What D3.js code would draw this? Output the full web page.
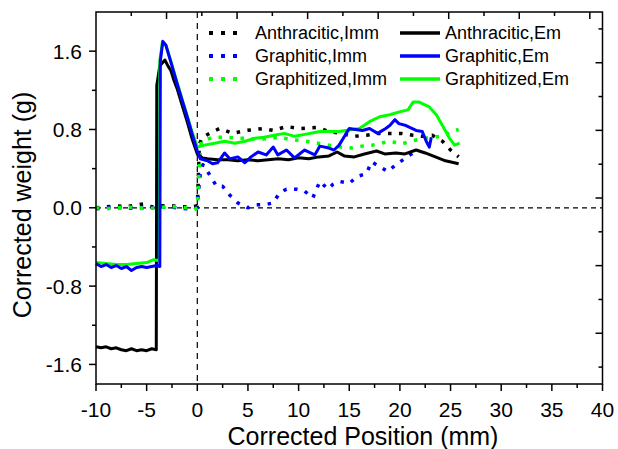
<!DOCTYPE html>
<html>
<head>
<meta charset="utf-8">
<script src="https://cdn.jsdelivr.net/npm/d3@7"></script>
<style>
  body { margin: 0; background: #fff; }
  svg { display: block; font-family: "Liberation Sans", Arial, sans-serif; }
</style>
</head>
<body>
<div id="chart"></div>
<script>
// Series: [position (mm), weight (g)]
const anthracImm = [[-10,0.0],[-9,0.01],[-8,0.02],[-7,0.01],[-6,0.03],[-5.3,0.04],[-4.5,0.01],[-3.5,0.02],[-2.5,0.02],[-1.5,0.01],[-0.5,0.01],[0,0.02],[0.1,0.3],[0.2,0.65],[0.5,0.72],[1.2,0.76],[2.2,0.81],[3.5,0.76],[4.8,0.79],[6.5,0.81],[7.5,0.79],[8.8,0.83],[10.1,0.81],[11.8,0.82],[13,0.78],[14.2,0.76],[15.3,0.73],[16.7,0.74],[17.8,0.76],[19,0.76],[20.1,0.76],[21.3,0.74],[22.2,0.73],[23.2,0.74],[24.2,0.68],[25,0.59],[25.8,0.52]];
const graphiticImm = [[-10,-0.01],[-9,0.0],[-8,0.0],[-7,0.0],[-6,-0.01],[-5,0.0],[-4,0.0],[-3,0.01],[-2,0.0],[-1,-0.01],[0,0.0],[0.1,0.15],[0.3,0.35],[0.55,0.44],[1.2,0.34],[1.9,0.22],[2.5,0.22],[3.2,0.13],[4,0.05],[5,0.0],[5.65,0.03],[6.6,0.03],[7.5,0.05],[8.1,0.15],[8.8,0.19],[9.8,0.19],[10.6,0.17],[11.4,0.1],[12.1,0.27],[12.9,0.19],[13.4,0.24],[14,0.27],[15,0.25],[15.8,0.32],[16.7,0.35],[17.2,0.47],[18,0.42],[18.8,0.37],[19.6,0.44],[20.6,0.51],[21.4,0.57]];
const graphitizedImm = [[-10,0.0],[-9,-0.01],[-8,0.0],[-7,0.01],[-6,0.0],[-5,-0.01],[-4,0.0],[-3,0.01],[-2,0.01],[-1,0.0],[-0.3,-0.02],[0,0.0],[0.1,0.2],[0.2,0.45],[0.4,0.68],[1.5,0.72],[3,0.72],[4.5,0.71],[6.3,0.7],[8.1,0.72],[9.1,0.7],[10.7,0.68],[11.9,0.66],[13,0.64],[14.2,0.62],[15.3,0.61],[16.3,0.63],[17.3,0.64],[18.1,0.66],[19.1,0.68],[20.1,0.65],[21.1,0.68],[21.9,0.7],[23,0.72],[24.2,0.73],[25,0.78],[25.8,0.8]];
const anthracEm = [[-10,-1.42],[-9.5,-1.43],[-9,-1.42],[-8.5,-1.44],[-8,-1.43],[-7.5,-1.45],[-7,-1.46],[-6.5,-1.44],[-6,-1.46],[-5.5,-1.45],[-5,-1.46],[-4.5,-1.44],[-4.05,-1.45],[-4.0,1.25],[-3.7,1.45],[-3.2,1.51],[-2.9,1.45],[-2.6,1.4],[-2.3,1.3],[-2.0,1.22],[-1.5,1.05],[-1.0,0.88],[-0.5,0.7],[0,0.55],[0.5,0.51],[1,0.5],[2,0.49],[3,0.49],[4,0.48],[5,0.49],[6,0.48],[7,0.49],[8,0.5],[9,0.49],[10,0.51],[11,0.5],[12,0.52],[13,0.53],[13.8,0.57],[14.5,0.53],[15.5,0.52],[16.5,0.55],[17.7,0.58],[18.5,0.55],[19.6,0.56],[20.5,0.55],[21.6,0.59],[22.5,0.56],[23.5,0.52],[24.5,0.48],[25.8,0.45]];
const graphiticEm = [[-10,-0.57],[-9.5,-0.6],[-9,-0.58],[-8.5,-0.61],[-8,-0.59],[-7.5,-0.62],[-7,-0.6],[-6.5,-0.64],[-6,-0.61],[-5.5,-0.6],[-5,-0.61],[-4.5,-0.6],[-4,-0.59],[-3.7,-0.6],[-3.65,1.5],[-3.4,1.7],[-3.1,1.66],[-2.5,1.45],[-2,1.27],[-1.5,1.1],[-1,0.93],[-0.5,0.75],[0,0.58],[0.3,0.5],[1,0.48],[1.5,0.45],[2,0.46],[2.7,0.56],[3.2,0.5],[4,0.52],[4.7,0.46],[5.3,0.52],[6,0.57],[6.8,0.54],[7.5,0.62],[7.95,0.54],[8.8,0.59],[9.6,0.51],[10.6,0.59],[11.6,0.54],[12.1,0.63],[13,0.61],[13.5,0.59],[14,0.64],[15,0.81],[16.3,0.79],[17,0.81],[17.8,0.76],[18.6,0.81],[19,0.84],[19.5,0.9],[19.9,0.86],[20.6,0.84],[21.6,0.79],[22.2,0.78],[22.6,0.68],[22.9,0.62],[23.1,0.72]];
const graphitizedEm = [[-10,-0.56],[-9,-0.57],[-8,-0.58],[-7,-0.58],[-6,-0.57],[-5,-0.56],[-4.3,-0.53],[-3.75,-0.54],[-3.7,1.5],[-3.45,1.69],[-3.1,1.66],[-2.5,1.46],[-2,1.28],[-1.5,1.11],[-1,0.94],[-0.5,0.77],[0,0.62],[0.7,0.64],[1.7,0.66],[2.7,0.68],[3.7,0.66],[4.7,0.68],[5.7,0.71],[6.6,0.72],[7.6,0.74],[8.6,0.76],[9.6,0.73],[10.6,0.75],[11.6,0.77],[12.1,0.78],[14,0.78],[16,0.81],[17,0.88],[18,0.93],[19,0.95],[19.95,0.98],[20.8,1.0],[21.3,1.08],[21.9,1.08],[22.9,1.03],[23.6,0.95],[24.2,0.84],[24.9,0.71],[25.4,0.64],[25.9,0.66]];

const xTicks = [-10, -5, 0, 5, 10, 15, 20, 25, 30, 35, 40];
const yTicks = [-1.6, -0.8, 0.0, 0.8, 1.6];

const legendItems = [
  { name: "Anthracitic,Imm", data: anthracImm, color: "#000000", dotted: true, col: 0, row: 0 },
  { name: "Graphitic,Imm", data: graphiticImm, color: "#0000ff", dotted: true, col: 0, row: 1 },
  { name: "Graphitized,Imm", data: graphitizedImm, color: "#00ff00", dotted: true, col: 0, row: 2 },
  { name: "Anthracitic,Em", data: anthracEm, color: "#000000", dotted: false, col: 1, row: 0 },
  { name: "Graphitized,Em", data: graphitizedEm, color: "#00ff00", dotted: false, col: 1, row: 2 },
  { name: "Graphitic,Em", data: graphiticEm, color: "#0000ff", dotted: false, col: 1, row: 1 }
];

const W = 618, H = 449;
const margin = { top: 12, right: 15.5, bottom: 65, left: 96 };
const width = W - margin.left - margin.right;
const height = H - margin.top - margin.bottom;

const svg = d3.select("#chart").append("svg")
  .attr("width", W).attr("height", H);
const g = svg.append("g").attr("transform", `translate(${margin.left},${margin.top})`);

const x = d3.scaleLinear().domain([-10, 40]).range([0, width]);
const y = d3.scaleLinear().domain([-1.8, 2.0]).range([height, 0]);
// mirror axes on top/right carry their own tick spacing in the original
const xTop = d3.scaleLinear().domain([0, 7.18]).range([0, width]);
const yRight = d3.scaleLinear().domain([-0.75, 4.75]).range([height, 0]);

// zero reference lines
g.append("line")
  .attr("x1", 0).attr("x2", width).attr("y1", y(0)).attr("y2", y(0))
  .attr("stroke", "#000").attr("stroke-width", 1.2).attr("stroke-dasharray", "5,4");
g.append("line")
  .attr("x1", x(0)).attr("x2", x(0)).attr("y1", 0).attr("y2", height)
  .attr("stroke", "#000").attr("stroke-width", 1.2).attr("stroke-dasharray", "6,5");

// series
const line = d3.line().x(d => x(d[0])).y(d => y(d[1]));
legendItems.forEach(s => {
  g.append("path")
    .datum(s.data)
    .attr("fill", "none")
    .attr("stroke", s.color)
    .attr("stroke-width", s.dotted ? 3.5 : 3)
    .attr("stroke-dasharray", s.dotted ? "3.5,7.5" : null)
    .attr("stroke-linejoin", "round")
    .attr("d", line);
});

// frame
g.append("rect")
  .attr("width", width).attr("height", height)
  .attr("fill", "none").attr("stroke", "#000").attr("stroke-width", 1.5);

function tickMarks(scale, values, len, side) {
  values.forEach(v => {
    const p = scale(v);
    let l;
    if (side === "bottom") l = [p, height, p, height + len];
    if (side === "top") l = [p, 0, p, len];
    if (side === "left") l = [0, p, -len, p];
    if (side === "right") l = [width, p, width - len, p];
    g.append("line")
      .attr("x1", l[0]).attr("y1", l[1]).attr("x2", l[2]).attr("y2", l[3])
      .attr("stroke", "#000").attr("stroke-width", 1.5);
  });
}
tickMarks(x, xTicks, 7, "bottom");
tickMarks(x, d3.range(-7.5, 40, 5), 4, "bottom");
tickMarks(y, yTicks, 7, "left");
tickMarks(y, [-1.2, -0.4, 0.4, 1.2], 4, "left");
tickMarks(xTop, d3.range(1, 8), 7, "top");
tickMarks(xTop, d3.range(0.5, 7, 1), 4, "top");
tickMarks(yRight, d3.range(0, 5), 7, "right");
tickMarks(yRight, [-0.5, 0.5, 1.5, 2.5, 3.5, 4.5], 4, "right");

// tick labels
g.selectAll(".xl").data(xTicks).join("text")
  .attr("x", d => x(d)).attr("y", height + 33)
  .attr("text-anchor", "middle").attr("font-size", 21)
  .text(d => d);
g.selectAll(".yl").data(yTicks).join("text")
  .attr("x", -14).attr("y", d => y(d)).attr("dy", "0.36em")
  .attr("text-anchor", "end").attr("font-size", 21)
  .text(d => d.toFixed(1));

// axis titles
svg.append("text")
  .attr("x", 363).attr("y", 445)
  .attr("text-anchor", "middle").attr("font-size", 25)
  .text("Corrected Position (mm)");
svg.append("text")
  .attr("transform", "translate(31,205) rotate(-90)")
  .attr("text-anchor", "middle").attr("font-size", 25)
  .text("Corrected weight (g)");

// legend
const legCols = [{ x0: 209, x1: 243, tx: 255 }, { x0: 400, x1: 440, tx: 445 }];
const legRows = [33, 56, 79];
legendItems.forEach(s => {
  const c = legCols[s.col], ry = legRows[s.row];
  svg.append("line")
    .attr("x1", c.x0).attr("x2", c.x1).attr("y1", ry).attr("y2", ry)
    .attr("stroke", s.color).attr("stroke-width", s.dotted ? 4 : 3.5)
    .attr("stroke-dasharray", s.dotted ? "4,8" : null);
  svg.append("text")
    .attr("x", c.tx).attr("y", ry).attr("dy", "0.36em")
    .attr("font-size", 18)
    .text(s.name);
});
</script>
</body>
</html>
